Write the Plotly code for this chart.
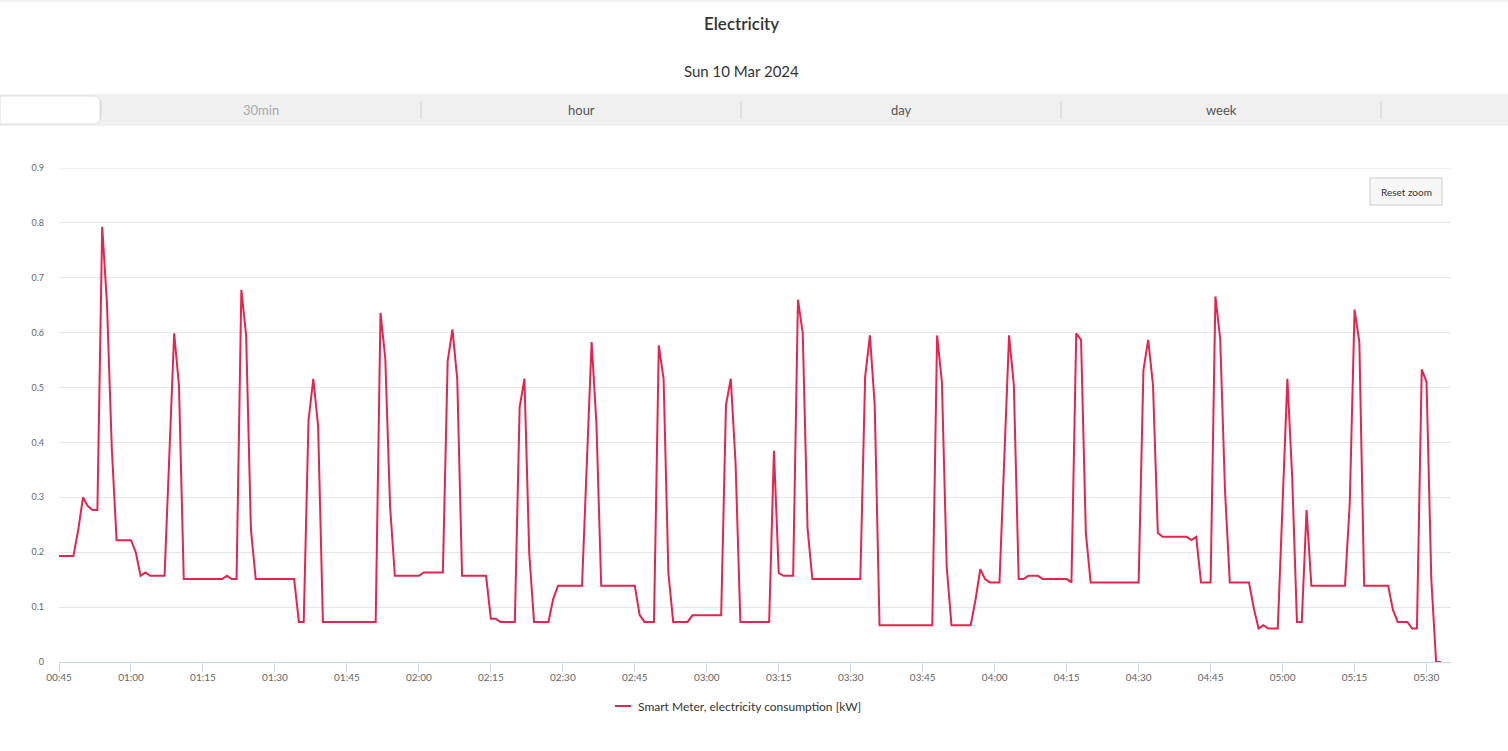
import pandas as pd
import plotly.graph_objs as go

# ========== Data ==========
title = "Electricity"
subtitle = "Sun 10 Mar 2024"
series_name = "Smart Meter, electricity consumption [kW]"
tab_labels = ["30min", "hour", "day", "week"]

start = "2024-03-10 00:45"
x_end = "2024-03-10 05:35:06"
y_max = 0.9

# one reading per minute from 00:45, None = missing sample
values = [
    0.193, 0.193, 0.193, 0.193, 0.24, 0.30, 0.284, 0.277, 0.277, 0.793, 0.653, 0.39, 0.222, 0.222, 0.222,
    0.222, 0.20, 0.157, 0.163, 0.157, 0.157, 0.157, 0.157, None, 0.599, 0.504, 0.151, 0.151, 0.151, 0.151,
    0.151, 0.151, 0.151, 0.151, 0.151, 0.157, 0.151, 0.151, 0.678, 0.595, 0.241, 0.151, 0.151, 0.151, 0.151,
    0.151, 0.151, 0.151, 0.151, 0.151, 0.073, 0.073, 0.44, 0.516, 0.43, 0.073, 0.073, 0.073, 0.073, 0.073,
    0.073, 0.073, 0.073, 0.073, 0.073, 0.073, 0.073, 0.636, 0.553, 0.283, 0.157, 0.157, 0.157, 0.157, 0.157,
    0.157, 0.163, 0.163, 0.163, 0.163, 0.163, 0.548, 0.606, 0.515, 0.157, 0.157, 0.157, 0.157, 0.157, 0.157,
    0.079, 0.079, 0.073, 0.073, 0.073, 0.073, 0.464, 0.516, 0.198, 0.073, 0.073, 0.073, 0.073, 0.115, 0.139,
    0.139, 0.139, 0.139, 0.139, 0.139, None, 0.583, 0.435, 0.139, 0.139, 0.139, 0.139, 0.139, 0.139, 0.139,
    0.139, 0.086, 0.073, 0.073, 0.073, 0.577, 0.516, 0.162, 0.073, 0.073, 0.073, 0.073, 0.085, 0.085, 0.085,
    0.085, 0.085, 0.085, 0.085, 0.468, 0.516, 0.362, 0.073, 0.073, 0.073, 0.073, 0.073, 0.073, 0.073, 0.385,
    0.162, 0.157, 0.157, 0.157, 0.66, 0.599, 0.244, 0.151, 0.151, 0.151, 0.151, 0.151, 0.151, 0.151, 0.151,
    0.151, 0.151, 0.151, 0.519, 0.595, 0.468, 0.067, 0.067, 0.067, 0.067, 0.067, 0.067, 0.067, 0.067, 0.067,
    0.067, 0.067, 0.067, 0.595, 0.51, 0.174, 0.067, 0.067, 0.067, 0.067, 0.067, 0.113, 0.169, 0.151, 0.145,
    0.145, 0.145, None, 0.595, 0.504, 0.151, 0.151, 0.157, 0.157, 0.157, 0.151, 0.151, 0.151, 0.151, 0.151,
    0.151, 0.145, 0.599, 0.587, 0.235, 0.145, 0.145, 0.145, 0.145, 0.145, 0.145, 0.145, 0.145, 0.145, 0.145,
    0.145, 0.532, 0.587, 0.504, 0.235, 0.228, 0.228, 0.228, 0.228, 0.228, 0.228, 0.222, 0.228, 0.145, 0.145,
    0.145, 0.666, 0.589, 0.313, 0.145, 0.145, 0.145, 0.145, 0.145, 0.098, 0.061, 0.067, 0.061, 0.061, 0.061,
    None, 0.516, 0.338, 0.073, 0.073, 0.277, 0.139, 0.139, 0.139, 0.139, 0.139, 0.139, 0.139, 0.139, 0.289,
    0.642, 0.583, 0.139, 0.139, 0.139, 0.139, 0.139, 0.139, 0.095, 0.073, 0.073, 0.073, 0.061, 0.061, 0.533,
    0.51, 0.15, 0, 0,
]
times = pd.date_range(start, periods=len(values), freq="min")

# ========== Page geometry (pixels) ==========
W, H = 1508, 751
L, R, T, B = 59, 57, 168, 89
FONT = "Lato"
RED = "#e2264d"


def px(x):
    return (x - L) / (W - L - R)


def py(y):
    return (H - B - y) / (H - T - B)


fig = go.Figure()

fig.add_trace(go.Scatter(
    x=times, y=values,
    mode="lines",
    name=series_name,
    connectgaps=True,
    line=dict(color=RED, width=2),
    hovertemplate="%{x|%H:%M}: %{y} kW<extra></extra>",
    showlegend=False,
))

shapes = []
annotations = []

# top gridline (plotly skips the one sitting on the range edge)
shapes.append(dict(type="line", xref="paper", yref="y", layer="below",
                   x0=0, x1=1, y0=y_max, y1=y_max,
                   line=dict(color="#e6e6e6", width=1)))

# thin top border
shapes.append(dict(type="line", xref="paper", yref="paper",
                   x0=px(0), x1=px(W), y0=py(1), y1=py(1),
                   line=dict(color="#e3e3e3", width=1)))

# tab bar
shapes.append(dict(type="rect", xref="paper", yref="paper", layer="below",
                   x0=px(0), x1=px(W), y0=py(126), y1=py(94),
                   fillcolor="#f0f0f0", line=dict(width=0)))
# selected tab (white, rounded right end)
r = 6
path = (f"M {px(0)},{py(96)} L {px(100 - r)},{py(96)} "
        f"Q {px(100)},{py(96)} {px(100)},{py(96 + r)} "
        f"L {px(100)},{py(124 - r)} Q {px(100)},{py(124)} {px(100 - r)},{py(124)} "
        f"L {px(0)},{py(124)} Z")
shapes.append(dict(type="path", xref="paper", yref="paper", path=path,
                   fillcolor="white", line=dict(color="#dddddd", width=1)))
for sx in [101, 421, 741, 1061, 1381]:
    shapes.append(dict(type="line", xref="paper", yref="paper",
                       x0=px(sx), x1=px(sx), y0=py(101), y1=py(119),
                       line=dict(color="#cfcfcf", width=1)))
for k, lab in enumerate(tab_labels):
    annotations.append(dict(text=lab, xref="paper", yref="paper",
                            x=px(261 + 320 * k), y=py(110), showarrow=False,
                            xanchor="center", yanchor="middle",
                            font=dict(family=FONT, size=13,
                                      color="#aaaaaa" if k == 0 else "#555555")))

# titles
annotations.append(dict(text=title, xref="paper", yref="paper", x=px(741), y=py(24),
                        showarrow=False, xanchor="center", yanchor="middle",
                        font=dict(family=FONT, size=17, color="#333333", weight=600)))
annotations.append(dict(text=subtitle, xref="paper", yref="paper", x=px(741), y=py(71),
                        showarrow=False, xanchor="center", yanchor="middle",
                        font=dict(family=FONT, size=15, color="#333333")))

# reset zoom button
shapes.append(dict(type="rect", xref="paper", yref="paper",
                   x0=px(1370), x1=px(1442), y0=py(205), y1=py(178),
                   fillcolor="#f7f7f7", line=dict(color="#cccccc", width=1)))
annotations.append(dict(text="Reset zoom", xref="paper", yref="paper",
                        x=px(1406), y=py(192), showarrow=False,
                        xanchor="center", yanchor="middle",
                        font=dict(family=FONT, size=10, color="#333333")))

# legend
shapes.append(dict(type="line", xref="paper", yref="paper",
                   x0=px(615), x1=px(631), y0=py(706), y1=py(706),
                   line=dict(color=RED, width=2)))
annotations.append(dict(text=series_name, xref="paper", yref="paper",
                        x=px(636), y=py(706), showarrow=False,
                        xanchor="left", yanchor="middle",
                        font=dict(family=FONT, size=12, color="#333333")))

fig.update_layout(
    width=W, height=H,
    margin=dict(l=L, r=R, t=T, b=B, pad=0),
    paper_bgcolor="white",
    plot_bgcolor="white",
    font=dict(family=FONT, color="#666666"),
    shapes=shapes,
    annotations=annotations,
    xaxis=dict(
        type="date",
        range=[start, x_end],
        tick0=start,
        dtick=15 * 60 * 1000,
        tickformat="%H:%M",
        showgrid=False,
        zeroline=False,
        showline=True,
        linecolor="#ccd6eb",
        linewidth=1,
        ticks="outside",
        ticklen=9,
        tickcolor="#ccd6eb",
        ticklabelstandoff=-3,
        tickfont=dict(family=FONT, size=10, color="#666666"),
    ),
    yaxis=dict(
        range=[0, y_max],
        dtick=0.1,
        showgrid=True,
        gridcolor="#e6e6e6",
        gridwidth=1,
        zeroline=False,
        showline=False,
        ticks="",
        ticklabelstandoff=14,
        tickfont=dict(family=FONT, size=9, color="#666666"),
    ),
)

fig.write_html(
    "out.html",
    config={"displayModeBar": False},
    post_script="document.body.style.margin='0';document.body.style.overflow='hidden';",
)
